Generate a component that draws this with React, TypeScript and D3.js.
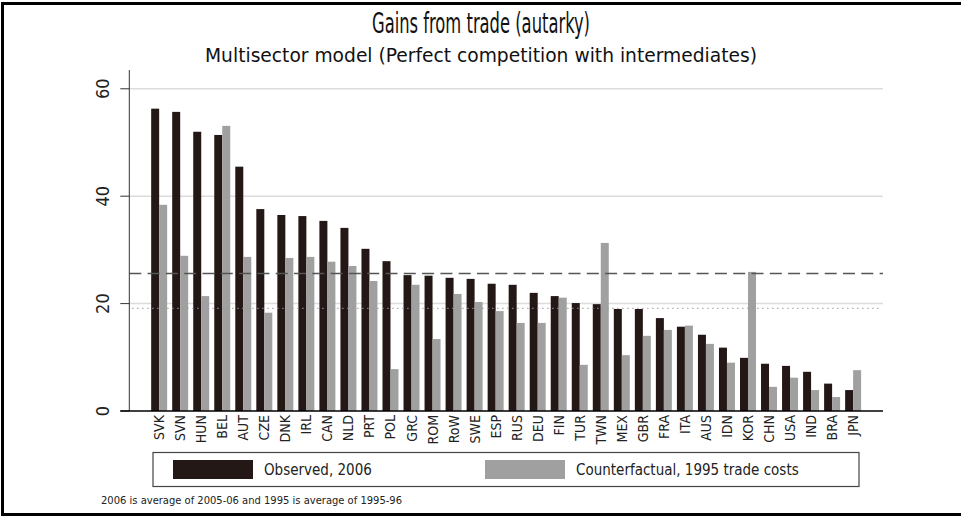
import * as d3 from "d3";
import React from "react";

// countries, ordered by observed gains
const countries = [
  "SVK", "SVN", "HUN", "BEL", "AUT", "CZE", "DNK", "IRL", "CAN", "NLD", "PRT",
  "POL", "GRC", "ROM", "RoW", "SWE", "ESP", "RUS", "DEU", "FIN", "TUR", "TWN",
  "MEX", "GBR", "FRA", "ITA", "AUS", "IDN", "KOR", "CHN", "USA", "IND", "BRA", "JPN",
];

const observed2006 = [
  56.3, 55.7, 52.0, 51.4, 45.5, 37.6, 36.5, 36.3, 35.4, 34.1, 30.2,
  27.9, 25.3, 25.2, 24.8, 24.6, 23.7, 23.5, 22.0, 21.4, 20.1, 19.9,
  19.0, 19.0, 17.3, 15.7, 14.2, 11.8, 9.9, 8.8, 8.4, 7.3, 5.1, 3.9,
];

const counterfactual1995 = [
  38.4, 28.9, 21.4, 53.1, 28.7, 18.3, 28.5, 28.7, 27.8, 27.0, 24.2,
  7.8, 23.5, 13.4, 21.8, 20.3, 18.6, 16.4, 16.4, 21.1, 8.6, 31.3,
  10.4, 14.0, 15.1, 15.9, 12.5, 9.0, 25.9, 4.5, 6.2, 3.9, 2.6, 7.6,
];

const yTicks = [0, 20, 40, 60];
const meanObserved = 25.6; // dashed reference
const meanCounterfactual = 19.1; // dotted reference

const seriesNames = ["Observed, 2006", "Counterfactual, 1995 trade costs"];
const colors = ["#231815", "#a0a0a0"];

const font = "'Liberation Sans Narrow', 'DejaVu Sans Condensed', 'Roboto Condensed', sans-serif";

export default function App() {
  const width = 961;
  const height = 516;

  const x = d3
    .scaleBand<string>()
    .domain(countries)
    .range([129.3, 883])
    .paddingInner(0.24)
    .paddingOuter(1.04);

  const xSub = d3
    .scaleBand<number>()
    .domain([0, 1])
    .range([0, x.bandwidth()]);

  const y = d3.scaleLinear().domain([0, 63.5]).range([411, 70]);

  const left = x.range()[0];
  const right = x.range()[1];

  return (
    <svg
      width={width}
      height={height}
      style={{ position: "absolute", left: 0, top: 0, background: "#fff" }}
      fontFamily={font}
    >
      {/* outer frame */}
      <rect x={2.5} y={3.5} width={width + 10} height={height - 5} fill="none" stroke="#000" strokeWidth={3} />

      <text x={481} y={33} textAnchor="middle" fontSize={28} fill="#111" textLength={218} lengthAdjust="spacingAndGlyphs">
        Gains from trade (autarky)
      </text>
      <text x={481} y={62} textAnchor="middle" fontSize={19} fill="#111" textLength={552} lengthAdjust="spacingAndGlyphs">
        Multisector model (Perfect competition with intermediates)
      </text>

      {/* grid */}
      {yTicks.slice(1).map((t) => (
        <line key={t} x1={left} x2={right} y1={y(t)} y2={y(t)} stroke="#dcdcdc" strokeWidth={1.5} />
      ))}

      {/* bars */}
      {countries.map((c, i) => (
        <g key={c} transform={`translate(${x(c)},0)`}>
          {[observed2006[i], counterfactual1995[i]].map((v, j) => (
            <rect
              key={j}
              x={xSub(j)}
              y={y(v)}
              width={xSub.bandwidth()}
              height={y(0) - y(v)}
              fill={colors[j]}
            />
          ))}
        </g>
      ))}

      {/* reference lines */}
      <line
        x1={left + 3}
        x2={right - 3}
        y1={y(meanCounterfactual)}
        y2={y(meanCounterfactual)}
        stroke="#999"
        strokeWidth={1.2}
        strokeDasharray="1.2 3.8"
      />
      <line
        x1={left}
        x2={right}
        y1={y(meanObserved)}
        y2={y(meanObserved)}
        stroke="#555"
        strokeWidth={1.6}
        strokeDasharray="12 6.3"
      />

      {/* y axis */}
      <line x1={left} x2={left} y1={y(0)} y2={y.range()[1]} stroke="#333" strokeWidth={1} />
      {yTicks.map((t) => (
        <g key={t} transform={`translate(${left},${y(t)})`}>
          <line x1={-9} x2={0} stroke="#333" strokeWidth={1} />
          <text
            transform="translate(-20,0) rotate(-90)"
            textAnchor="middle"
            fontSize={18}
            fill="#222"
          >
            {t}
          </text>
        </g>
      ))}

      {/* x axis */}
      <line x1={left - 9} x2={right} y1={y(0)} y2={y(0)} stroke="#000" strokeWidth={1.5} />
      {countries.map((c) => (
        <text
          key={c}
          transform={`translate(${(x(c) ?? 0) + x.bandwidth() / 2 + 5},415) rotate(-90)`}
          textAnchor="end"
          fontSize={14}
          fill="#222"
        >
          {c}
        </text>
      ))}

      {/* legend */}
      <rect x={153} y={452.5} width={706} height={34} fill="#fff" stroke="#444" strokeWidth={1.2} />
      {seriesNames.map((name, i) => (
        <g key={name} transform={`translate(${i === 0 ? 173 : 485},0)`}>
          <rect x={0} y={460} width={80} height={19} fill={colors[i]} />
          <text x={91} y={474.5} fontSize={15} fill="#222">
            {name}
          </text>
        </g>
      ))}

      <text x={101} y={504} fontSize={10.5} fill="#222" textLength={301} lengthAdjust="spacingAndGlyphs">
        2006 is average of 2005-06 and 1995 is average of 1995-96
      </text>
    </svg>
  );
}
